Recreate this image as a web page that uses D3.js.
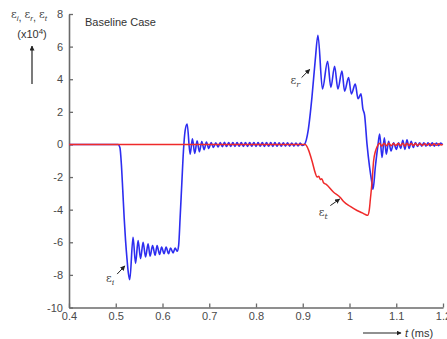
<!DOCTYPE html>
<html>
<head>
<meta charset="utf-8">
<script src="https://cdn.jsdelivr.net/npm/d3@7"></script>
<style>
  body { margin: 0; background: #fff; }
  svg { font-family: "Liberation Sans", Arial, sans-serif; }
</style>
</head>
<body>
<div id="chart"></div>
<script>
// time ticks (ms) and strain ticks (x10^-4)
const xTicks = [0.4, 0.5, 0.6, 0.7, 0.8, 0.9, 1.0, 1.1, 1.2];
const xTickLabels = ["0.4", "0.5", "0.6", "0.7", "0.8", "0.9", "1", "1.1", "1.2"];
const yTicks = [-10, -8, -6, -4, -2, 0, 2, 4, 6, 8];

// blue trace: incident pulse (eps_i) then reflected pulse (eps_r), [t, value]
const incidentReflected = [
  [0.400, 0], [0.505, 0], [0.509, -0.2], [0.512, -1.2], [0.515, -2.8], [0.518, -4.5], [0.521, -5.9],
  [0.524, -7.0], [0.527, -7.9], [0.5300, -8.3],
  [0.5370, -5.7], [0.5424, -7.3], [0.5478, -5.9], [0.5531, -7.0], [0.5585, -6.0], [0.5638, -6.9],
  [0.5692, -6.1], [0.5734, -6.85], [0.5788, -6.2], [0.5842, -6.8], [0.5884, -6.2], [0.5938, -6.75],
  [0.5981, -6.3], [0.6034, -6.7], [0.6077, -6.3], [0.6131, -6.7], [0.6173, -6.35], [0.6227, -6.65],
  [0.6270, -6.35], [0.6313, -6.55], [0.6345, -6.2], [0.6377, -4.5], [0.6413, -2.4], [0.6448, -0.4],
  [0.6484, 0.85], [0.6527, 1.25],
  [0.6591, -0.6], [0.664, 0.35], [0.669, -0.55], [0.674, 0.22], [0.679, -0.45], [0.684, 0.18],
  [0.689, -0.32], [0.694, 0.15], [0.699, -0.25], [0.704, 0.12], [0.709, -0.18], [0.714, 0.10],
  [0.719, -0.15], [0.7235, 0.12], [0.728, -0.14], [0.7325, 0.13], [0.737, -0.13], [0.7415, 0.12],
  [0.746, -0.12], [0.7505, 0.11], [0.755, -0.12], [0.7595, 0.12], [0.764, -0.11], [0.7685, 0.12],
  [0.773, -0.12], [0.7775, 0.11], [0.782, -0.12], [0.7865, 0.12], [0.791, -0.11], [0.7955, 0.12],
  [0.800, -0.12], [0.8045, 0.11], [0.809, -0.11], [0.8135, 0.12], [0.818, -0.12], [0.8225, 0.11],
  [0.827, -0.11], [0.8315, 0.11], [0.836, -0.12], [0.8405, 0.11], [0.845, -0.11], [0.8495, 0.10],
  [0.854, -0.11], [0.8585, 0.10], [0.863, -0.10], [0.8675, 0.10], [0.872, -0.10], [0.8765, 0.09],
  [0.881, -0.10], [0.8855, 0.09], [0.890, -0.09], [0.8945, 0.08], [0.899, -0.06], [0.9035, 0],
  [0.9118, 0.9], [0.9197, 2.9], [0.9268, 5.2], [0.9325, 6.7],
  [0.9422, 3.4], [0.9531, 5.1], [0.9602, 3.5], [0.9681, 4.8], [0.9752, 3.4], [0.9839, 4.5],
  [0.9895, 3.27], [0.9981, 4.1], [1.0039, 3.1], [1.0124, 3.7], [1.0182, 2.8], [1.0246, 3.1],
  [1.0285, 2.2], [1.0323, 1.8], [1.0375, 0.0], [1.0430, -1.4], [1.0482, -2.4], [1.0503, -2.75],
  [1.0552, -1.4], [1.0602, -0.2], [1.0645, 0.63], [1.0696, -0.8], [1.0745, 0.4], [1.0788, -0.6],
  [1.0837, 0.2], [1.0889, -0.4], [1.0944, 0.1], [1.1002, -0.3], [1.105, 0.10], [1.1095, -0.25],
  [1.114, 0.25], [1.1185, -0.30], [1.123, 0.28], [1.1275, -0.25], [1.132, 0.20], [1.1365, -0.18],
  [1.141, 0.12], [1.1455, -0.12], [1.150, 0.10], [1.1545, -0.10], [1.159, 0.10], [1.1635, -0.10],
  [1.168, 0.10], [1.1725, -0.09], [1.177, 0.10], [1.1815, -0.10], [1.186, 0.09], [1.1905, -0.08],
  [1.195, 0.08], [1.199, 0]
];

// red trace: transmitted pulse (eps_t), [t, value]
const transmitted = [
  [0.400, 0], [0.9054, 0], [0.9118, -0.3], [0.9197, -1.0], [0.9268, -1.75], [0.9304, -2.0],
  [0.9343, -1.95], [0.9375, -2.15], [0.9407, -2.1], [0.9445, -2.35], [0.9503, -2.45], [0.9660, -2.93],
  [0.9803, -3.25], [0.9874, -3.5], [1.0017, -3.8], [1.0161, -4.05], [1.0274, -4.2], [1.0338, -4.3],
  [1.0388, -4.35], [1.0424, -4.0], [1.0445, -3.4], [1.0482, -2.3], [1.0516, -1.0], [1.0552, -0.45],
  [1.0589, -0.15], [1.064, 0.08], [1.069, -0.1], [1.074, 0.08], [1.079, -0.08], [1.084, 0.07],
  [1.089, -0.08], [1.094, 0.06], [1.099, -0.07], [1.104, 0.06], [1.109, -0.07], [1.114, 0.08],
  [1.1185, -0.1], [1.123, 0.08], [1.1275, -0.07], [1.132, 0.06], [1.1365, -0.06], [1.141, 0.06],
  [1.146, -0.06], [1.151, 0.05], [1.156, -0.06], [1.161, 0.05], [1.166, -0.05], [1.171, 0.05],
  [1.176, -0.05], [1.181, 0.05], [1.186, -0.05], [1.191, 0.04], [1.196, -0.04], [1.200, 0]
];

// annotation labels: text anchor and arrow (tail -> tip), in data units
const annotations = [
  { sub: "i", text: [0.4880, -8.45], from: [0.5030, -7.95], to: [0.5195, -7.45] },
  { sub: "r", text: [0.8840, 3.7], from: [0.8975, 4.1], to: [0.9150, 4.6] },
  { sub: "t", text: [0.9440, -4.4], from: [0.9590, -3.75], to: [0.9790, -3.35] }
];

const width = 447, height = 339;
const margin = { left: 69, right: 4, top: 14, bottom: 31.5 };

const svg = d3.select('#chart')
  .append('svg')
  .attr('width', width)
  .attr('height', height);

const x = d3.scaleLinear()
  .domain([0.4, 1.2])
  .range([margin.left, width - margin.right]);
const y = d3.scaleLinear()
  .domain([-10, 8])
  .range([height - margin.bottom, margin.top]);

const axisColor = '#6a6a6a';
const labelColor = '#4a4a4a';

// axes, ticks point inwards
const gx = svg.append('g')
  .attr('transform', `translate(0,${y(-10)})`)
  .call(d3.axisBottom(x).tickValues(xTicks).tickFormat((d, i) => xTickLabels[i])
    .tickSizeInner(-4).tickSizeOuter(0).tickPadding(5));
const gy = svg.append('g')
  .attr('transform', `translate(${x(0.4)},0)`)
  .call(d3.axisLeft(y).tickValues(yTicks).tickFormat(d => String(d))
    .tickSizeInner(-4).tickSizeOuter(0).tickPadding(6));

[gx, gy].forEach(g => {
  g.select('.domain').attr('stroke', axisColor).attr('stroke-width', 1.6);
  g.selectAll('.tick line').attr('stroke', axisColor).attr('stroke-width', 1.3);
  g.selectAll('.tick text')
    .attr('fill', labelColor)
    .style('font-size', '11px')
    .style('font-family', '"Liberation Sans", Arial, sans-serif');
});

// traces
const line = d3.line()
  .x(d => x(d[0]))
  .y(d => y(d[1]))
  .curve(d3.curveMonotoneX);

svg.append('path')
  .datum(incidentReflected)
  .attr('d', line)
  .attr('fill', 'none')
  .attr('stroke', '#2d2df0')
  .attr('stroke-width', 1.6);

svg.append('path')
  .datum(transmitted)
  .attr('d', line)
  .attr('fill', 'none')
  .attr('stroke', '#ef2a2a')
  .attr('stroke-width', 1.5);

// arrowhead marker
svg.append('defs').append('marker')
  .attr('id', 'head')
  .attr('viewBox', '0 0 10 10')
  .attr('refX', 9).attr('refY', 5)
  .attr('markerWidth', 5).attr('markerHeight', 5)
  .attr('markerUnits', 'userSpaceOnUse')
  .attr('orient', 'auto')
  .append('path')
  .attr('d', 'M0,0 L10,5 L0,10 z')
  .attr('fill', '#222');

// epsilon labels with arrows
annotations.forEach(a => {
  svg.append('line')
    .attr('x1', x(a.from[0])).attr('y1', y(a.from[1]))
    .attr('x2', x(a.to[0])).attr('y2', y(a.to[1]))
    .attr('stroke', '#222').attr('stroke-width', 1)
    .attr('marker-end', 'url(#head)');
  const t = svg.append('text')
    .attr('x', x(a.text[0])).attr('y', y(a.text[1]))
    .attr('text-anchor', 'middle')
    .attr('fill', '#444')
    .style('font-family', '"DejaVu Serif", serif')
    .style('font-size', '11px');
  t.append('tspan').text('ε');
  t.append('tspan').attr('dy', 3).style('font-size', '8px').style('font-style', 'italic').text(a.sub);
});

// title
svg.append('text')
  .attr('x', 85).attr('y', 26)
  .attr('fill', '#333')
  .style('font-size', '11px')
  .text('Baseline Case');

// y label block in the top left corner
const yl = svg.append('text')
  .attr('x', 29).attr('y', 18)
  .attr('text-anchor', 'middle')
  .attr('fill', '#444')
  .style('font-size', '11px')
  .style('white-space', 'pre');
['i', 'r', 't'].forEach((s, i) => {
  yl.append('tspan').attr('dy', i === 0 ? 0 : -3).style('font-family', '"DejaVu Serif", serif').text('ε');
  yl.append('tspan').attr('dy', 3).style('font-size', '8px').style('font-style', 'italic').text(s);
  if (i < 2) yl.append('tspan').text(', ');
});
const yl2 = svg.append('text')
  .attr('x', 32).attr('y', 38)
  .attr('text-anchor', 'middle')
  .attr('fill', '#333')
  .style('font-size', '11px');
yl2.append('tspan').text('(x10');
yl2.append('tspan').attr('dy', -4).style('font-size', '8px').text('4');
yl2.append('tspan').attr('dy', 4).text(')');

svg.append('line')
  .attr('x1', 32).attr('y1', 84)
  .attr('x2', 32).attr('y2', 46)
  .attr('stroke', '#222').attr('stroke-width', 1.2)
  .attr('marker-end', 'url(#head)');

// t axis label bottom right
svg.append('line')
  .attr('x1', 363).attr('y1', 333)
  .attr('x2', 401).attr('y2', 333)
  .attr('stroke', '#222').attr('stroke-width', 1.2)
  .attr('marker-end', 'url(#head)');
const tl = svg.append('text')
  .attr('x', 405).attr('y', 337)
  .attr('fill', '#333')
  .style('font-size', '11px');
tl.append('tspan').style('font-style', 'italic').text('t');
tl.append('tspan').text(' (ms)');
</script>
</body>
</html>
